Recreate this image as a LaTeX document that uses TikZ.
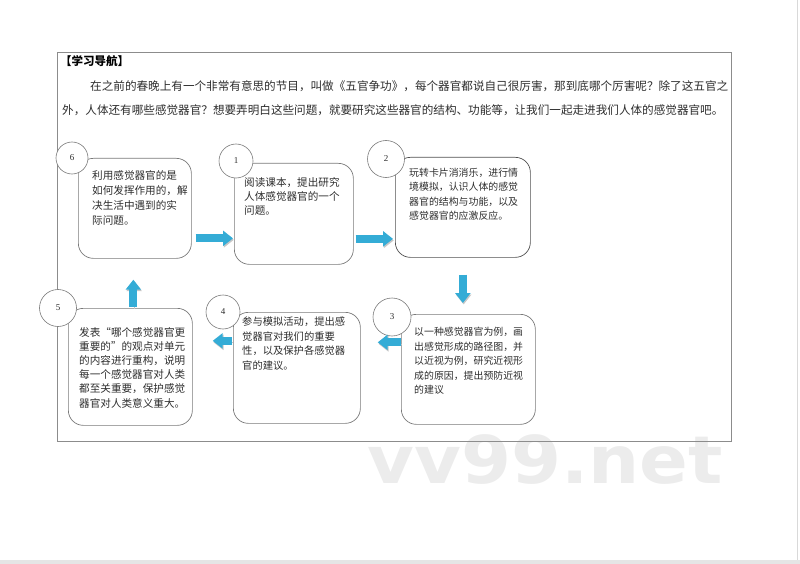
\documentclass[tikz,border=0pt]{standalone}
\usepackage{fontspec}
\setmainfont{Liberation Serif}
\newfontfamily\cjk{Noto Sans CJK SC}
\newfontfamily\wmfont{DejaVu Sans}
\usetikzlibrary{arrows.meta}
\definecolor{flowblue}{RGB}{52,172,214}
\definecolor{boxgray}{RGB}{122,122,122}
\definecolor{boxdark}{RGB}{80,80,80}
\definecolor{textgray}{RGB}{45,45,45}
\definecolor{framegray}{RGB}{140,140,140}
\definecolor{wmgray}{RGB}{236,236,236}
\tikzset{
  box/.style={draw=boxgray, line width=0.7pt, rounded corners=15pt, anchor=north west, inner sep=0pt},
  numcirc/.style={circle, draw=boxgray, fill=white, line width=0.6pt, inner sep=0pt, text=textgray, font=\fontsize{9}{9}\selectfont},
  boxtext/.style={anchor=north west, inner sep=0pt, align=left, text=textgray},
  paratext/.style={anchor=west, inner sep=0pt, text=textgray, font=\cjk\fontsize{11.6}{14}\selectfont},
  flow/.style={draw=flowblue, line width=8pt, -{Triangle[width=15pt,length=10pt]},
    preaction={draw=black!22, transform canvas={xshift=0.8pt, yshift=-1.5pt}}}
}
\begin{document}
\begin{tikzpicture}[x=1pt,y=-1pt]
\useasboundingbox (0,0) rectangle (800,564);
% page edges
\fill[black!10] (0,560) rectangle (800,564);
\draw[black!15, line width=0.8pt] (797,0) -- (797,560);
% watermark
\node[anchor=base west, inner sep=0pt, text=wmgray, font=\wmfont\bfseries\fontsize{66}{66}\selectfont, xscale=1.09] (wm) at (367,483) {vv99.net};
% frame
\draw[framegray, line width=0.8pt] (57,52) rectangle (731,441);
% heading and paragraph
\node[paratext, font=\cjk\bfseries\fontsize{11.5}{14}\selectfont, text=black] (hd) at (60,61) {【学习导航】};
\node[paratext] (p1) at (90,86) {在之前的春晚上有一个非常有意思的节目，叫做《五官争功》，每个器官都说自己很厉害，那到底哪个厉害呢？除了这五官之};
\node[paratext] (p2) at (62,110) {外，人体还有哪些感觉器官？想要弄明白这些问题，就要研究这些器官的结构、功能等，让我们一起走进我们人体的感觉器官吧。};
% boxes
\node[box, minimum width=113pt, minimum height=100pt] (b6) at (78,158) {};
\node[box, minimum width=119pt, minimum height=101pt] (b1) at (234,163) {};
\node[box, draw=boxdark, minimum width=135pt, minimum height=100pt] (b2) at (395,157) {};
\node[box, minimum width=134pt, minimum height=110pt] (b3) at (401,314) {};
\node[box, minimum width=127pt, minimum height=111pt] (b4) at (233,312) {};
\node[box, minimum width=124pt, minimum height=117pt] (b5) at (68,308) {};
% box texts
\node[boxtext, font=\cjk\fontsize{10.6}{15}\selectfont] (t6) at (92,170) {利用感觉器官的是\\如何发挥作用的，解\\决生活中遇到的实\\际问题。};
\node[boxtext, font=\cjk\fontsize{10.6}{14}\selectfont] (t1) at (244,177) {阅读课本，提出研究\\人体感觉器官的一个\\问题。};
\node[boxtext, font=\cjk\fontsize{9.9}{14.3}\selectfont] (t2) at (409,168) {玩转卡片消消乐，进行情\\境模拟，认识人体的感觉\\器官的结构与功能，以及\\感觉器官的应激反应。};
\node[boxtext, font=\cjk\fontsize{9.9}{14.6}\selectfont] (t3) at (414,327) {以一种感觉器官为例，画\\出感觉形成的路径图，并\\以近视为例，研究近视形\\成的原因，提出预防近视\\的建议};
\node[boxtext, font=\cjk\fontsize{10.3}{14.4}\selectfont] (t4) at (242,317) {参与模拟活动，提出感\\觉器官对我们的重要\\性，以及保护各感觉器\\官的建议。};
\node[boxtext, font=\cjk\fontsize{10.6}{14.2}\selectfont] (t5) at (79,327) {发表“哪个感觉器官更\\重要的”的观点对单元\\的内容进行重构，说明\\每一个感觉器官对人类\\都至关重要，保护感觉\\器官对人类意义重大。};
% number circles
\node[numcirc, minimum size=32pt] (c6) at (72,158) {6};
\node[numcirc, minimum size=34pt] (c1) at (236,161) {1};
\node[numcirc, minimum size=37pt] (c2) at (386,159) {2};
\node[numcirc, minimum size=38pt] (c3) at (392,317) {3};
\node[numcirc, minimum size=34pt] (c4) at (223,312) {4};
\node[numcirc, minimum size=37pt] (c5) at (58,308) {5};
% flow arrows
\coordinate (a61) at ([yshift=-30pt]b6.east);
\draw[flow, shorten <=4pt, shorten >=1pt] (a61) -- (a61 -| b1.west);
\coordinate (a12) at ([yshift=-25pt]b1.east);
\draw[flow, shorten <=2pt, shorten >=2pt] (a12) -- (a12 -| b2.west);
\draw[flow, shorten <=17pt, shorten >=11pt] (b2.south) -- (b2.south |- b3.north);
\coordinate (a34) at ([yshift=27pt]b3.west);
\draw[flow, shorten <=0pt, shorten >=17pt] (a34) -- (a34 -| b4.east);
\coordinate (a45) at ([yshift=27pt]b4.west);
\draw[flow, shorten <=1pt, shorten >=20pt] (a45) -- (a45 -| b5.east);
\coordinate (a56) at ([xshift=3pt]b5.north);
\draw[flow, shorten <=1pt, shorten >=21pt] (a56) -- (a56 |- b6.south);
\end{tikzpicture}
\end{document}
